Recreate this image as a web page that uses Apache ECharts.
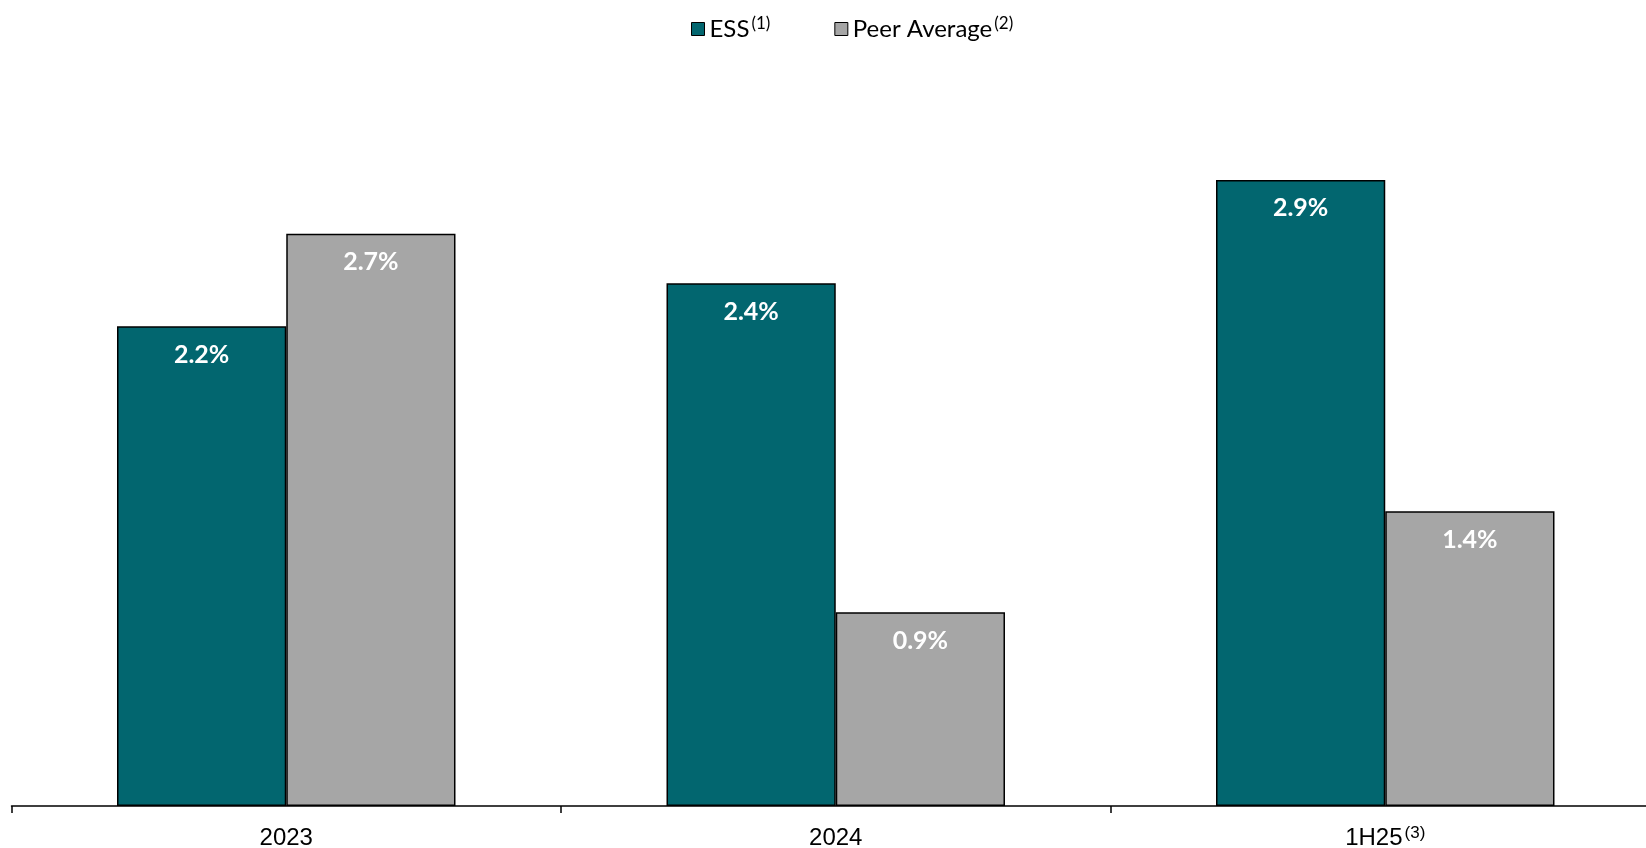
<!DOCTYPE html>
<html><head><meta charset="utf-8">
<script src="https://cdn.jsdelivr.net/npm/echarts@6/dist/echarts.min.js"></script>
<style>html,body{margin:0;padding:0;background:#fff}#c{width:1646px;height:848px}</style>
</head><body><div id="c"></div>
<script>
const categories = ['2023', '2024', '1H25'];
const categoryNotes = ['', '', '(3)'];
const essValues = [2.23, 2.43, 2.91];
const peerValues = [2.66, 0.90, 1.37];
const seriesNames = ['ESS', 'Peer Average'];
const seriesNotes = ['(1)', '(2)'];

const FONT = 'Lato';
const AXFONT = 'Liberation Sans';
const chart = echarts.init(document.getElementById('c'), null, {renderer: 'canvas'});
const labelCfg = {
  show: true, position: 'insideTop', distance: 16,
  color: '#fff', fontFamily: FONT, fontWeight: 'bold', fontSize: 25,
  formatter: p => p.value.toFixed(1) + '%'
};
chart.setOption({
  animation: false,
  legend: {
    top: 10, left: 686, itemGap: 64, itemWidth: 13, itemHeight: 13, icon: 'rect',
    data: seriesNames.map(n => ({name: n, itemStyle: {borderColor: '#000', borderWidth: 1}})),
    formatter: name => {
      const i = seriesNames.indexOf(name);
      return '{a|' + name + '}{s|' + seriesNotes[i] + '}';
    },
    textStyle: {
      rich: {
        a: {fontFamily: FONT, fontSize: 24, color: '#000', lineHeight: 28},
        s: {fontFamily: FONT, fontSize: 17, color: '#000', verticalAlign: 'top', lineHeight: 17, padding: [0, 0, 0, 2]}
      }
    }
  },
  grid: {left: 11.5, right: -14, top: 53, bottom: 42, containLabel: false, outerBoundsMode: 'none'},
  xAxis: {
    type: 'category', data: categories,
    axisLine: {lineStyle: {color: '#000', width: 1.5}},
    axisTick: {show: true, length: 7, lineStyle: {color: '#000', width: 1.5}},
    axisLabel: {
      margin: 19,
      formatter: (v, i) => '{a|' + v + '}' + (categoryNotes[i] ? '{s|' + categoryNotes[i] + '}' : ''),
      rich: {
        a: {fontFamily: AXFONT, fontSize: 24, color: '#000', lineHeight: 26},
        s: {fontFamily: AXFONT, fontSize: 17, color: '#000', verticalAlign: 'top', lineHeight: 17, padding: [0, 0, 0, 2]}
      }
    }
  },
  yAxis: {type: 'value', min: 0, max: 3.5, show: false, splitLine: {show: false}},
  series: [
    {name: seriesNames[0], type: 'bar', data: essValues, barGap: '0%', barCategoryGap: '38.4%',
     itemStyle: {color: '#02666F', borderColor: '#000', borderWidth: 1.5}, label: labelCfg},
    {name: seriesNames[1], type: 'bar', data: peerValues,
     itemStyle: {color: '#A6A6A6', borderColor: '#000', borderWidth: 1.5}, label: labelCfg}
  ]
});
</script></body></html>
